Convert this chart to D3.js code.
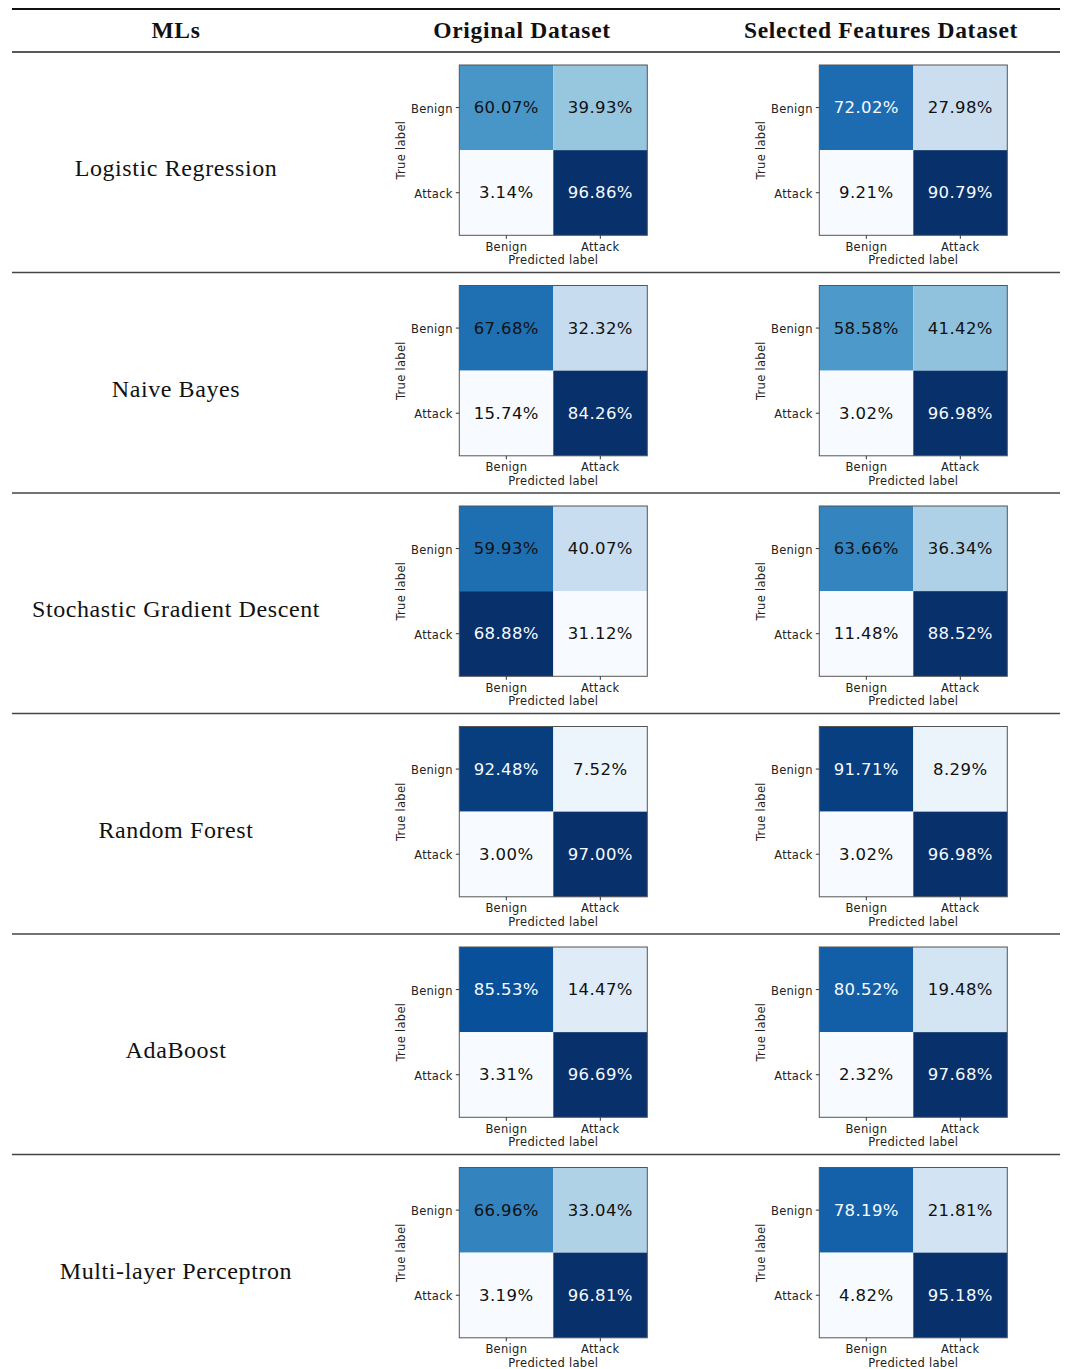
<!DOCTYPE html>
<html>
<head>
<meta charset="utf-8">
<script src="https://cdn.jsdelivr.net/npm/d3@7"></script>
<style>
  html, body { margin: 0; padding: 0; background: #fff; }
  svg { display: block; }
</style>
</head>
<body>
<svg id="chart" width="1065" height="1369"></svg>
<script>
// Models compared, one table row each
const models = [
  "Logistic Regression",
  "Naive Bayes",
  "Stochastic Gradient Descent",
  "Random Forest",
  "AdaBoost",
  "Multi-layer Perceptron"
];

// Class labels used on both axes of every confusion matrix
const classLabels = ["Benign", "Attack"];

// Column headings
const columnHeaders = ["MLs", "Original Dataset", "Selected Features Dataset"];

// Row-normalised confusion matrices (%), order:
// [true Benign→pred Benign, true Benign→pred Attack, true Attack→pred Benign, true Attack→pred Attack]
const originalValues = [
  [60.07, 39.93, 3.14, 96.86],
  [67.68, 32.32, 15.74, 84.26],
  [59.93, 40.07, 68.88, 31.12],
  [92.48, 7.52, 3.00, 97.00],
  [85.53, 14.47, 3.31, 96.69],
  [66.96, 33.04, 3.19, 96.81]
];

const selectedValues = [
  [72.02, 27.98, 9.21, 90.79],
  [58.58, 41.42, 3.02, 96.98],
  [63.66, 36.34, 11.48, 88.52],
  [91.71, 8.29, 3.02, 96.98],
  [80.52, 19.48, 2.32, 97.68],
  [78.19, 21.81, 4.82, 95.18]
];

// Sequential "Blues" stops (ColorBrewer), interpolated linearly
const bluesStops = ["#f7fbff", "#deebf7", "#c6dbef", "#9ecae1", "#6baed6",
                    "#4292c6", "#2171b5", "#08519c", "#08306b"];

const svg = d3.select("#chart");

const tableLeft = 12, tableRight = 1060;
const headerRuleTop = 9, headerRuleBottom = 52;
const rowPitch = 220.5;
const firstRowTop = 52;
const colCenters = [176, 522, 881];
const matrixLefts = [459.3, 819.3];
const matrixW = 188, matrixH = 170.3;
const matrixTopOffset = 13; // from row top to heatmap top

// Table rules
svg.append("line")
  .attr("x1", tableLeft).attr("x2", tableRight)
  .attr("y1", headerRuleTop).attr("y2", headerRuleTop)
  .attr("stroke", "#111").attr("stroke-width", 2);
svg.append("line")
  .attr("x1", tableLeft).attr("x2", tableRight)
  .attr("y1", headerRuleBottom).attr("y2", headerRuleBottom)
  .attr("stroke", "#222").attr("stroke-width", 1.4);

// Column headings
svg.selectAll("text.header")
  .data(columnHeaders)
  .join("text")
  .attr("class", "header")
  .attr("x", (d, i) => colCenters[i])
  .attr("y", 38)
  .attr("text-anchor", "middle")
  .attr("font-family", "'Liberation Serif', 'Times New Roman', serif")
  .attr("font-weight", "bold")
  .attr("font-size", 23.5)
  .attr("letter-spacing", 0.7)
  .attr("fill", "#111")
  .text(d => d);

const x = d3.scaleBand().domain(classLabels).range([0, matrixW]);
const y = d3.scaleBand().domain(classLabels).range([0, matrixH]);

function drawMatrix(g, values) {
  const cells = [];
  classLabels.forEach((t, ti) => classLabels.forEach((p, pi) => {
    cells.push({ trueLabel: t, predLabel: p, value: values[ti * 2 + pi] });
  }));

  const [vmin, vmax] = d3.extent(values);
  const color = d3.scaleLinear()
    .domain(bluesStops.map((_, i) => vmin + (vmax - vmin) * i / (bluesStops.length - 1)))
    .range(bluesStops)
    .interpolate(d3.interpolateRgb);

  g.selectAll("rect.cell")
    .data(cells)
    .join("rect")
    .attr("class", "cell")
    .attr("x", d => x(d.predLabel))
    .attr("y", d => y(d.trueLabel))
    .attr("width", x.bandwidth())
    .attr("height", y.bandwidth())
    .attr("fill", d => color(d.value));

  g.selectAll("text.value")
    .data(cells)
    .join("text")
    .attr("class", "value")
    .attr("x", d => x(d.predLabel) + x.bandwidth() / 2)
    .attr("y", d => y(d.trueLabel) + y.bandwidth() / 2)
    .attr("text-anchor", "middle")
    .attr("dominant-baseline", "central")
    .attr("font-family", "'DejaVu Sans', sans-serif")
    .attr("font-size", 16.5)
    .attr("letter-spacing", 0.4)
    .attr("fill", d => d.value >= 68 ? "#f7fbff" : "#111")
    .text(d => d.value.toFixed(2) + "%");

  // Frame
  g.append("rect")
    .attr("width", matrixW).attr("height", matrixH)
    .attr("fill", "none")
    .attr("stroke", "#555").attr("stroke-width", 1);

  const yAxis = g.append("g")
    .call(d3.axisLeft(y).tickSize(3.5).tickPadding(3));
  const xAxis = g.append("g")
    .attr("transform", `translate(0,${matrixH})`)
    .call(d3.axisBottom(x).tickSize(3.5).tickPadding(4));
  [xAxis, yAxis].forEach(ax => {
    ax.select(".domain").remove();
    ax.selectAll(".tick line").attr("stroke", "#333");
    ax.selectAll(".tick text")
      .attr("font-family", "'DejaVu Sans', sans-serif")
      .attr("font-size", 11.5)
      .attr("letter-spacing", 0.3)
      .attr("fill", "#222");
  });
  yAxis.selectAll(".tick text").attr("dy", "0.45em");

  g.append("text")
    .attr("transform", `translate(${-58},${matrixH / 2}) rotate(-90)`)
    .attr("text-anchor", "middle")
    .attr("dominant-baseline", "central")
    .attr("font-family", "'DejaVu Sans', sans-serif")
    .attr("font-size", 11.5)
    .attr("letter-spacing", 0.3)
    .attr("fill", "#222")
    .text("True label");

  g.append("text")
    .attr("x", matrixW / 2)
    .attr("y", matrixH + 25)
    .attr("text-anchor", "middle")
    .attr("dominant-baseline", "central")
    .attr("font-family", "'DejaVu Sans', sans-serif")
    .attr("font-size", 11.5)
    .attr("letter-spacing", 0.3)
    .attr("fill", "#222")
    .text("Predicted label");
}

models.forEach((name, i) => {
  const rowTop = firstRowTop + i * rowPitch;

  svg.append("text")
    .attr("x", colCenters[0])
    .attr("y", rowTop + 124)
    .attr("text-anchor", "middle")
    .attr("font-family", "'Liberation Serif', 'Times New Roman', serif")
    .attr("font-size", 24)
    .attr("letter-spacing", 0.6)
    .attr("fill", "#111")
    .text(name);

  [originalValues[i], selectedValues[i]].forEach((vals, c) => {
    const g = svg.append("g")
      .attr("transform", `translate(${matrixLefts[c]},${rowTop + matrixTopOffset})`);
    drawMatrix(g, vals);
  });

  if (i < models.length - 1) {
    svg.append("line")
      .attr("x1", tableLeft).attr("x2", tableRight)
      .attr("y1", rowTop + rowPitch).attr("y2", rowTop + rowPitch)
      .attr("stroke", "#444").attr("stroke-width", 1.3);
  }
});
</script>
</body>
</html>
